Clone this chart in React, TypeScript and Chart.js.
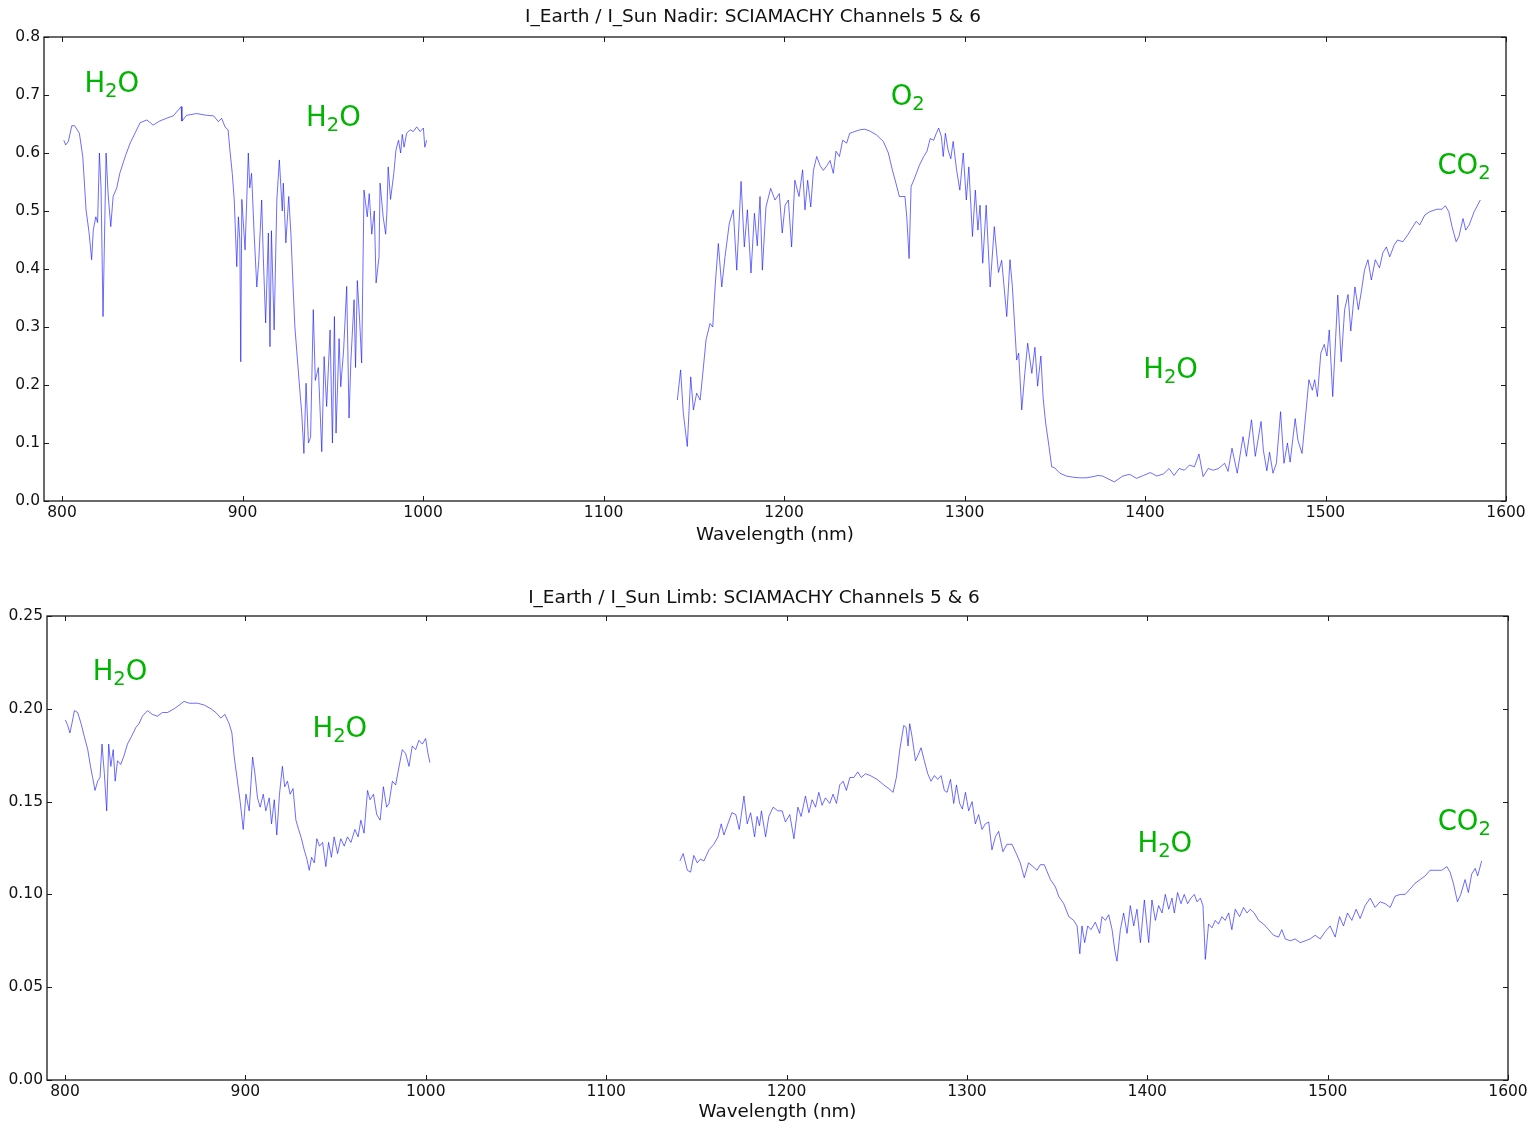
import React, { useEffect, useRef } from 'react';
import { Chart, registerables } from 'chart.js';

Chart.register(...registerables);

// ---------- Nadir, channel 5 ----------
const nadirCh5X = [801, 802, 803.5, 805.4, 807, 809.6, 811.5, 813.3, 815, 816.4, 817.3, 818.7, 819.7, 820.7, 821.6, 822.7, 824.4, 825.5, 827, 828.3, 830.3, 832, 834.9, 837.7, 840.4, 843.2, 847, 850.5, 854, 858, 861.6, 866, 866.4, 869, 874.6, 880, 884, 886.6, 888.4, 890.3, 892, 893, 894.3, 895.4, 896.8, 897.7, 898.5, 899, 899.6, 901.4, 903.2, 904, 905, 906.4, 907.9, 909, 910.6, 911.5, 912.8, 914.3, 915.2, 916, 917.5, 919, 920.4, 922, 922.6, 924, 925.6, 926.8, 928, 929, 930, 931.3, 932.8, 934, 935.2, 936.5, 937.7, 939.2, 940.3, 942, 943.9, 945.2, 946.6, 948.5, 949.8, 950.9, 951.8, 953.5, 954.4, 956, 957.7, 959, 960, 961.8, 962.6, 963.6, 964.9, 966, 967.3, 969.1, 970.2, 971.6, 973, 974, 975.6, 976.2, 977.9, 979.3, 980, 980.7, 982, 983.8, 985, 986.4, 987.6, 988.5, 989.5, 990.9, 992.8, 994.6, 996.5, 998.4, 1000.2, 1001, 1002];
const nadirCh5Y = [0.622, 0.614, 0.62, 0.647, 0.647, 0.634, 0.593, 0.502, 0.462, 0.416, 0.467, 0.49, 0.48, 0.6, 0.54, 0.318, 0.6, 0.53, 0.473, 0.525, 0.54, 0.565, 0.593, 0.617, 0.634, 0.652, 0.657, 0.648, 0.655, 0.66, 0.664, 0.68, 0.655, 0.665, 0.668, 0.665, 0.664, 0.654, 0.66, 0.645, 0.64, 0.605, 0.565, 0.519, 0.404, 0.49, 0.45, 0.24, 0.52, 0.433, 0.6, 0.54, 0.565, 0.462, 0.369, 0.415, 0.519, 0.42, 0.307, 0.462, 0.266, 0.466, 0.295, 0.519, 0.588, 0.5, 0.548, 0.445, 0.525, 0.46, 0.37, 0.3, 0.26, 0.208, 0.151, 0.082, 0.203, 0.1, 0.11, 0.33, 0.208, 0.23, 0.085, 0.249, 0.163, 0.295, 0.1, 0.318, 0.117, 0.28, 0.197, 0.26, 0.37, 0.143, 0.24, 0.347, 0.23, 0.38, 0.31, 0.238, 0.536, 0.49, 0.53, 0.46, 0.5, 0.376, 0.42, 0.548, 0.49, 0.46, 0.5, 0.576, 0.52, 0.565, 0.605, 0.622, 0.6, 0.632, 0.61, 0.634, 0.64, 0.637, 0.645, 0.637, 0.643, 0.61, 0.622];

// ---------- Nadir, channel 6 ----------
const nadirCh6X = [1140.9, 1142.7, 1144.2, 1146.4, 1148.3, 1149.8, 1151.6, 1153.5, 1155, 1156.8, 1159, 1160.5, 1161.8, 1163.6, 1165.5, 1167.3, 1169.7, 1171.9, 1173.8, 1176.2, 1178, 1179.7, 1181.7, 1183.6, 1185.2, 1186.7, 1188, 1190, 1192.6, 1195, 1197.4, 1199, 1200.6, 1202.4, 1204.2, 1206, 1208.3, 1210.3, 1211.6, 1213.1, 1214.8, 1216.3, 1218.1, 1220, 1221.8, 1223.7, 1225.5, 1227.3, 1228.8, 1230.7, 1232.5, 1234.7, 1236.4, 1239.2, 1242, 1244.7, 1247.5, 1251.3, 1255, 1257.8, 1260, 1262, 1263.9, 1267, 1268, 1269.3, 1270.4, 1272.6, 1275, 1277.4, 1279.2, 1281, 1282.9, 1284.4, 1285.7, 1287.2, 1288.2, 1289.4, 1290.9, 1292.4, 1293.7, 1295.6, 1297.4, 1299.3, 1301, 1302.4, 1304.4, 1306, 1307.4, 1308.6, 1310.1, 1312, 1314.2, 1316.5, 1318.8, 1320.6, 1323.4, 1325.2, 1326.5, 1328.9, 1330, 1331.7, 1333.4, 1335, 1337.3, 1339, 1340.5, 1342.3, 1343.6, 1344.9, 1346.8, 1348.3, 1350, 1352.8, 1356.5, 1360.2, 1363.8, 1367.5, 1371.2, 1374, 1376.4, 1383, 1387.7, 1391.5, 1395.3, 1399.1, 1402.9, 1406.6, 1410.4, 1413.3, 1416.1, 1418.9, 1421.8, 1424.6, 1427.4, 1429.9, 1432.2, 1435, 1437.8, 1440.7, 1444.1, 1446, 1448.2, 1451.1, 1454.3, 1456.2, 1459, 1461.1, 1462.6, 1464.3, 1465.6, 1467.5, 1469, 1470.9, 1472.8, 1475.1, 1477, 1478.9, 1480.4, 1483.2, 1484.7, 1487, 1488.9, 1490.8, 1492.7, 1494, 1495.5, 1497.4, 1499.3, 1500.8, 1502.1, 1504, 1506.8, 1508.7, 1510.6, 1512.5, 1514, 1516.3, 1518.2, 1520, 1521.6, 1523.5, 1525.4, 1527.6, 1529.9, 1531.8, 1533.7, 1535.6, 1538, 1539.9, 1542.8, 1545.6, 1548.4, 1550.3, 1552.2, 1555, 1557.9, 1561.7, 1564.5, 1566.4, 1568.3, 1570.1, 1572.4, 1573.9, 1576.2, 1577.7, 1579.6, 1582.4, 1585.8];
const nadirCh6Y = [0.174, 0.226, 0.152, 0.094, 0.214, 0.157, 0.186, 0.174, 0.22, 0.278, 0.306, 0.3, 0.369, 0.444, 0.369, 0.421, 0.479, 0.502, 0.398, 0.551, 0.438, 0.502, 0.393, 0.496, 0.44, 0.525, 0.398, 0.507, 0.539, 0.519, 0.53, 0.462, 0.51, 0.519, 0.438, 0.553, 0.525, 0.571, 0.502, 0.553, 0.507, 0.57, 0.594, 0.578, 0.57, 0.578, 0.587, 0.565, 0.603, 0.594, 0.622, 0.617, 0.634, 0.637, 0.64, 0.641, 0.638, 0.631, 0.62, 0.6, 0.571, 0.548, 0.525, 0.525, 0.49, 0.418, 0.542, 0.559, 0.579, 0.594, 0.603, 0.625, 0.622, 0.634, 0.643, 0.628, 0.594, 0.634, 0.605, 0.59, 0.62, 0.571, 0.536, 0.6, 0.519, 0.576, 0.456, 0.536, 0.467, 0.51, 0.41, 0.51, 0.369, 0.473, 0.394, 0.415, 0.318, 0.416, 0.37, 0.243, 0.255, 0.157, 0.22, 0.272, 0.22, 0.265, 0.198, 0.25, 0.176, 0.136, 0.094, 0.059, 0.057, 0.048, 0.043, 0.041, 0.04, 0.04, 0.042, 0.044, 0.043, 0.033, 0.043, 0.046, 0.039, 0.044, 0.049, 0.043, 0.047, 0.056, 0.044, 0.056, 0.053, 0.062, 0.059, 0.081, 0.042, 0.056, 0.053, 0.056, 0.065, 0.051, 0.091, 0.048, 0.111, 0.077, 0.14, 0.077, 0.105, 0.137, 0.087, 0.052, 0.084, 0.048, 0.065, 0.154, 0.065, 0.1, 0.067, 0.142, 0.105, 0.082, 0.145, 0.209, 0.191, 0.209, 0.18, 0.255, 0.27, 0.25, 0.295, 0.18, 0.355, 0.24, 0.33, 0.356, 0.293, 0.369, 0.33, 0.364, 0.398, 0.416, 0.381, 0.416, 0.402, 0.428, 0.438, 0.421, 0.441, 0.45, 0.447, 0.459, 0.473, 0.482, 0.476, 0.493, 0.499, 0.503, 0.503, 0.509, 0.499, 0.473, 0.447, 0.456, 0.487, 0.467, 0.476, 0.499, 0.519];

// ---------- Limb, channel 5 ----------
const limbCh5X = [800.2, 801.5, 802.7, 803.8, 805.2, 807, 808.9, 810.7, 812.6, 814.1, 815.3, 816.6, 818.1, 819.4, 820.5, 821.8, 823.1, 824.2, 825.4, 826.7, 827.8, 829.1, 830.9, 832.8, 834.6, 836.8, 839.3, 841, 842.9, 845.7, 848.4, 851.2, 854, 856.8, 860.5, 863.3, 866, 868.9, 873.5, 877.2, 880.9, 883.6, 886.4, 888.6, 891, 892.5, 893.8, 895.6, 897.1, 898.8, 900.3, 902.1, 904, 905.3, 906.7, 908.2, 909.9, 911.3, 913.2, 914.5, 916, 917.4, 918.9, 920.5, 921.8, 923.3, 924.8, 926.4, 928, 929.5, 931.1, 932.6, 934.1, 935.4, 936.7, 938.2, 939.6, 941.1, 942.8, 944.6, 946.1, 947.7, 949.2, 951.1, 952.9, 954.8, 956.6, 958.5, 960.7, 962.5, 964, 965.8, 967.7, 969.1, 971, 972.8, 974.7, 976.5, 978.3, 979.6, 981.5, 983.3, 985.2, 987, 988.8, 990.7, 992.5, 994.4, 996.2, 998.1, 999.9, 1001.2, 1002.3];
const limbCh5Y = [0.194, 0.191, 0.187, 0.192, 0.199, 0.198, 0.192, 0.185, 0.178, 0.169, 0.163, 0.156, 0.161, 0.163, 0.181, 0.165, 0.145, 0.181, 0.169, 0.178, 0.161, 0.172, 0.17, 0.175, 0.181, 0.185, 0.19, 0.192, 0.196, 0.199, 0.197, 0.196, 0.198, 0.198, 0.2, 0.202, 0.204, 0.203, 0.203, 0.202, 0.2, 0.198, 0.195, 0.197, 0.192, 0.187, 0.174, 0.161, 0.15, 0.135, 0.154, 0.145, 0.174, 0.165, 0.152, 0.147, 0.154, 0.145, 0.152, 0.138, 0.151, 0.132, 0.154, 0.169, 0.158, 0.161, 0.154, 0.157, 0.14, 0.135, 0.13, 0.124, 0.119, 0.113, 0.12, 0.117, 0.13, 0.126, 0.128, 0.115, 0.128, 0.12, 0.131, 0.122, 0.13, 0.126, 0.131, 0.128, 0.135, 0.131, 0.14, 0.133, 0.156, 0.151, 0.154, 0.143, 0.14, 0.158, 0.147, 0.149, 0.161, 0.159, 0.169, 0.178, 0.176, 0.169, 0.18, 0.178, 0.183, 0.181, 0.184, 0.176, 0.171];

// ---------- Limb, channel 6 ----------
const limbCh6X = [1140.9, 1142.7, 1145, 1146.8, 1148.6, 1150.5, 1152.3, 1154.2, 1157, 1159.7, 1162, 1163.8, 1165.3, 1167.5, 1169.7, 1171.9, 1173.8, 1176.4, 1178.2, 1180.1, 1182.3, 1183.7, 1185, 1186.1, 1188.4, 1190.2, 1192.6, 1195.2, 1197.6, 1199.4, 1201.8, 1204.1, 1206.3, 1208.1, 1210.5, 1212.4, 1214.2, 1216.1, 1217.9, 1219.7, 1221.6, 1224, 1225.8, 1227.7, 1229.5, 1231.4, 1233.2, 1235.1, 1237.3, 1239.5, 1241.4, 1243.8, 1246.5, 1250.2, 1253.9, 1256.7, 1259.1, 1260.9, 1262.8, 1265, 1266.3, 1267.4, 1268.3, 1269.6, 1271.5, 1272.9, 1274.6, 1276.4, 1278.3, 1280.1, 1282, 1283.8, 1285.7, 1287.5, 1289, 1290.9, 1292.7, 1294.2, 1296, 1297.5, 1299.2, 1301, 1302.9, 1304.7, 1306.5, 1308.4, 1310.2, 1312.1, 1313.9, 1315.8, 1317.6, 1320, 1322.2, 1325, 1327.4, 1329.6, 1331.8, 1334.2, 1336.6, 1338.9, 1340.7, 1342.9, 1346.3, 1349.1, 1350.9, 1353.7, 1356.5, 1359.2, 1361.1, 1362.6, 1363.8, 1365.3, 1367, 1368.8, 1371.2, 1373.6, 1374.9, 1376.8, 1378.6, 1380.5, 1382, 1383.2, 1385.1, 1386.9, 1388.8, 1390.6, 1392.5, 1394.3, 1396.2, 1398.4, 1400.8, 1402.6, 1404.5, 1406.3, 1408.2, 1410, 1411.9, 1413.7, 1415, 1416.8, 1418.7, 1420.5, 1422.4, 1424.2, 1426.1, 1427.6, 1429.4, 1430.9, 1432.2, 1434, 1435.9, 1437.7, 1439.5, 1441.4, 1443.2, 1445.1, 1446.9, 1448.8, 1451.2, 1453.4, 1455.3, 1457.1, 1459.3, 1461.7, 1464.5, 1467.3, 1470, 1472.8, 1474.6, 1476.5, 1479.3, 1482, 1484.8, 1487.6, 1490.3, 1493.1, 1495.9, 1498.7, 1501.4, 1504.2, 1506.6, 1508.8, 1511, 1513.4, 1515.8, 1518, 1520.8, 1523.6, 1526.3, 1529.1, 1531.9, 1534.7, 1537.4, 1540.2, 1543, 1545.8, 1548.5, 1551.3, 1554.1, 1556.8, 1560.5, 1563.3, 1566.1, 1567.9, 1569.7, 1572, 1573.8, 1576.2, 1578, 1579.9, 1581.8, 1583.2, 1585.4];
const limbCh6Y = [0.118, 0.122, 0.113, 0.112, 0.121, 0.117, 0.119, 0.118, 0.124, 0.127, 0.131, 0.138, 0.132, 0.138, 0.144, 0.143, 0.135, 0.153, 0.138, 0.144, 0.131, 0.142, 0.137, 0.145, 0.131, 0.142, 0.147, 0.145, 0.145, 0.139, 0.143, 0.13, 0.147, 0.142, 0.153, 0.144, 0.151, 0.147, 0.155, 0.148, 0.152, 0.149, 0.154, 0.149, 0.159, 0.161, 0.156, 0.163, 0.163, 0.166, 0.163, 0.165, 0.164, 0.162, 0.159, 0.157, 0.155, 0.163, 0.178, 0.191, 0.19, 0.18, 0.192, 0.185, 0.172, 0.175, 0.179, 0.172, 0.165, 0.161, 0.164, 0.162, 0.164, 0.156, 0.155, 0.162, 0.149, 0.159, 0.149, 0.146, 0.155, 0.145, 0.15, 0.138, 0.143, 0.135, 0.138, 0.139, 0.124, 0.131, 0.134, 0.123, 0.127, 0.127, 0.122, 0.117, 0.109, 0.117, 0.115, 0.113, 0.116, 0.116, 0.108, 0.104, 0.099, 0.095, 0.088, 0.086, 0.083, 0.068, 0.083, 0.074, 0.083, 0.081, 0.085, 0.079, 0.088, 0.086, 0.089, 0.081, 0.07, 0.064, 0.081, 0.09, 0.079, 0.094, 0.083, 0.092, 0.074, 0.097, 0.074, 0.097, 0.086, 0.094, 0.09, 0.1, 0.092, 0.098, 0.09, 0.101, 0.095, 0.1, 0.095, 0.098, 0.1, 0.096, 0.098, 0.094, 0.065, 0.084, 0.082, 0.086, 0.084, 0.088, 0.086, 0.09, 0.081, 0.092, 0.088, 0.093, 0.09, 0.092, 0.09, 0.086, 0.084, 0.081, 0.078, 0.077, 0.081, 0.076, 0.075, 0.076, 0.074, 0.075, 0.076, 0.078, 0.076, 0.08, 0.083, 0.077, 0.088, 0.083, 0.09, 0.086, 0.092, 0.087, 0.094, 0.098, 0.093, 0.096, 0.095, 0.093, 0.099, 0.1, 0.1, 0.103, 0.106, 0.108, 0.11, 0.113, 0.113, 0.113, 0.115, 0.112, 0.106, 0.096, 0.1, 0.108, 0.101, 0.111, 0.114, 0.11, 0.118];

// ---------- Axes ----------
const xTicks = [800, 900, 1000, 1100, 1200, 1300, 1400, 1500, 1600];
const nadirYTicks = [0, 0.1, 0.2, 0.3, 0.4, 0.5, 0.6, 0.7, 0.8];
const limbYTicks = [0, 0.05, 0.1, 0.15, 0.2, 0.25];

const nadirTitle = 'I_Earth / I_Sun Nadir: SCIAMACHY Channels 5 & 6';
const limbTitle = 'I_Earth / I_Sun Limb: SCIAMACHY Channels 5 & 6';
const xTitle = 'Wavelength (nm)';

// ---------- Species labels: [main, subscript, rest], data x, data y ----------
const nadirLabelText = [['H', '2', 'O'], ['H', '2', 'O'], ['O', '2', ''], ['H', '2', 'O'], ['CO', '2', '']];
const nadirLabelX = [812.4, 935.2, 1259.1, 1399, 1562];
const nadirLabelY = [0.705, 0.647, 0.683, 0.2126, 0.564];
const limbLabelText = [['H', '2', 'O'], ['H', '2', 'O'], ['H', '2', 'O'], ['CO', '2', '']];
const limbLabelX = [815.3, 937.2, 1394.6, 1561];
const limbLabelY = [0.2155, 0.185, 0.123, 0.1347];

const FONT = '"DejaVu Sans", "Bitstream Vera Sans", sans-serif';
const LINE_COLOR = 'rgba(20, 20, 255, 0.62)';
const LABEL_COLOR = 'rgb(0, 180, 0)';
const TEXT_COLOR = '#111111';

function toPoints(xs: number[], ys: number[]) {
  return xs.map((x, i) => ({ x, y: ys[i] }));
}

const mplFrame = {
  id: 'mplFrame',
  afterDatasetsDraw(chart: any, _args: any, opts: any) {
    const { ctx, chartArea } = chart;
    const { left, right, top, bottom } = chartArea;
    const xs = chart.scales.x;
    const ys = chart.scales.y;
    ctx.save();
    ctx.strokeStyle = '#1a1a1a';
    ctx.lineWidth = 1.3;
    ctx.strokeRect(left, top, right - left, bottom - top);
    ctx.lineWidth = 1;
    ctx.beginPath();
    const tl = 5;
    xs.ticks.forEach((t: any) => {
      const px = Math.round(xs.getPixelForValue(t.value)) + 0.5;
      ctx.moveTo(px, bottom);
      ctx.lineTo(px, bottom - tl);
      ctx.moveTo(px, top);
      ctx.lineTo(px, top + tl);
    });
    ys.ticks.forEach((t: any) => {
      const py = Math.round(ys.getPixelForValue(t.value)) + 0.5;
      ctx.moveTo(left, py);
      ctx.lineTo(left + tl, py);
      ctx.moveTo(right, py);
      ctx.lineTo(right - tl, py);
    });
    ctx.stroke();

    const texts: string[][] = opts.texts || [];
    const lx: number[] = opts.xs || [];
    const ly: number[] = opts.ys || [];
    ctx.fillStyle = LABEL_COLOR;
    ctx.textBaseline = 'alphabetic';
    ctx.textAlign = 'left';
    texts.forEach((parts, i) => {
      let px = xs.getPixelForValue(lx[i]);
      const py = ys.getPixelForValue(ly[i]);
      ctx.font = `27.5px ${FONT}`;
      ctx.fillText(parts[0], px, py);
      px += ctx.measureText(parts[0]).width;
      ctx.font = `19.5px ${FONT}`;
      ctx.fillText(parts[1], px, py + 5);
      px += ctx.measureText(parts[1]).width;
      if (parts[2]) {
        ctx.font = `27.5px ${FONT}`;
        ctx.fillText(parts[2], px, py);
      }
    });
    ctx.restore();
  },
};

type PanelProps = {
  height: number;
  seg1: { x: number; y: number }[];
  seg2: { x: number; y: number }[];
  yTicks: number[];
  yMax: number;
  decimals: number;
  title: string;
  titlePad: { top: number; bottom: number };
  padRight: number;
  yWidth: number;
  xHeight: number;
  xTitlePadBottom: number;
  labelTexts: string[][];
  labelXs: number[];
  labelYs: number[];
};

function Panel(p: PanelProps) {
  const ref = useRef<HTMLCanvasElement | null>(null);
  useEffect(() => {
    if (!ref.current) return;
    const ds = (data: any) => ({
      data,
      borderColor: LINE_COLOR,
      borderWidth: 1,
      pointRadius: 0,
      pointHoverRadius: 0,
      fill: false,
      tension: 0,
    });
    const chart = new Chart(ref.current, {
      type: 'line',
      data: { datasets: [ds(p.seg1), ds(p.seg2)] },
      options: {
        animation: false,
        responsive: false,
        maintainAspectRatio: false,
        events: [],
        layout: { padding: { left: 0, right: p.padRight, top: 0, bottom: 0 } },
        plugins: {
          legend: { display: false },
          tooltip: { enabled: false },
          title: {
            display: true,
            text: p.title,
            color: TEXT_COLOR,
            font: { family: FONT, size: 18.5, weight: 'normal', lineHeight: 1.2 },
            padding: p.titlePad,
          },
          mplFrame: { texts: p.labelTexts, xs: p.labelXs, ys: p.labelYs },
        } as any,
        scales: {
          x: {
            type: 'linear',
            min: 790,
            max: 1600,
            afterBuildTicks: (s: any) => {
              s.ticks = xTicks.map((v) => ({ value: v }));
            },
            afterFit: (s: any) => {
              s.height = p.xHeight;
            },
            grid: { display: false, drawTicks: false },
            border: { display: false },
            ticks: {
              color: TEXT_COLOR,
              font: { family: FONT, size: 15.5 },
              padding: 3,
              maxRotation: 0,
              autoSkip: false,
              callback: (v: any) => String(v),
            },
            title: {
              display: true,
              text: xTitle,
              color: TEXT_COLOR,
              font: { family: FONT, size: 18.3, lineHeight: 1.2 },
              padding: { top: 0, bottom: p.xTitlePadBottom },
            },
          },
          y: {
            type: 'linear',
            min: 0,
            max: p.yMax,
            afterBuildTicks: (s: any) => {
              s.ticks = p.yTicks.map((v) => ({ value: v }));
            },
            afterFit: (s: any) => {
              s.width = p.yWidth;
            },
            grid: { display: false, drawTicks: false },
            border: { display: false },
            ticks: {
              color: TEXT_COLOR,
              font: { family: FONT, size: 15.5 },
              padding: 4,
              autoSkip: false,
              callback: (v: any) => Number(v).toFixed(p.decimals),
            },
          },
        },
      },
      plugins: [mplFrame as any],
    });
    return () => chart.destroy();
  }, []);
  return (
    <canvas
      ref={ref}
      width={1535}
      height={p.height}
      style={{ display: 'block', width: 1535, height: p.height }}
    />
  );
}

export default function App() {
  return (
    <div style={{ position: 'absolute', left: 0, top: 0, width: 1535, height: 1125, background: '#ffffff' }}>
      <Panel
        height={560}
        seg1={toPoints(nadirCh5X, nadirCh5Y)}
        seg2={toPoints(nadirCh6X, nadirCh6Y)}
        yTicks={nadirYTicks}
        yMax={0.8}
        decimals={1}
        title={nadirTitle}
        titlePad={{ top: 6, bottom: 8.8 }}
        padRight={29}
        yWidth={44}
        xHeight={59}
        xTitlePadBottom={14}
        labelTexts={nadirLabelText}
        labelXs={nadirLabelX}
        labelYs={nadirLabelY}
      />
      <Panel
        height={565}
        seg1={toPoints(limbCh5X, limbCh5Y)}
        seg2={toPoints(limbCh6X, limbCh6Y)}
        yTicks={limbYTicks}
        yMax={0.25}
        decimals={2}
        title={limbTitle}
        titlePad={{ top: 27, bottom: 6.8 }}
        padRight={27}
        yWidth={47}
        xHeight={45}
        xTitlePadBottom={2}
        labelTexts={limbLabelText}
        labelXs={limbLabelX}
        labelYs={limbLabelY}
      />
    </div>
  );
}
